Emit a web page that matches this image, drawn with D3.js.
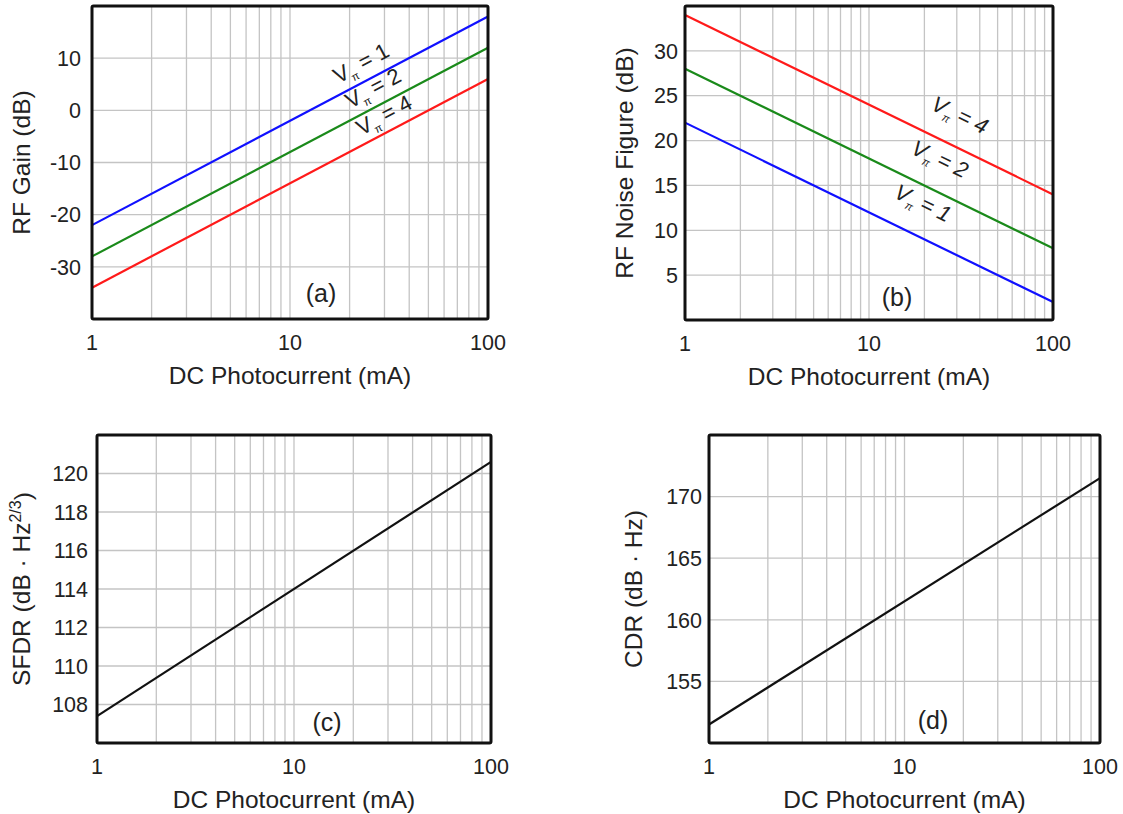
<!DOCTYPE html>
<html><head><meta charset="utf-8">
<script src="https://cdn.jsdelivr.net/npm/d3@7"></script>
<style>
body{margin:0;background:#fff;}
text{font-family:"Liberation Sans",Arial,sans-serif;fill:#222;}
</style></head>
<body>
<svg id="c" width="1123" height="814"></svg>
<script>
// ---- data ----
const xTickLabels = [1, 10, 100];
const currents = [1, 100];

const gainTicks = [-30, -20, -10, 0, 10];
const gainVpi1 = [-22, 18];
const gainVpi2 = [-28, 12];
const gainVpi4 = [-34, 6];

const nfTicks = [5, 10, 15, 20, 25, 30];
const nfVpi1 = [22, 2];
const nfVpi2 = [28, 8];
const nfVpi4 = [34, 14];

const sfdrTicks = [108, 110, 112, 114, 116, 118, 120];
const sfdrValues = [107.4, 120.6];

const cdrTicks = [155, 160, 165, 170];
const cdrValues = [151.5, 171.5];

const svg = d3.select("#c");

function panel(cfg){
  const {x0,x1,y0,y1,ydom,yticks,series,ytitle,ytitleX,letter,letterPos,tickRight,curveLabels,italic} = cfg;
  const g = svg.append("g");
  const x = d3.scaleLog().domain([1,100]).range([x0,x1]);
  const y = d3.scaleLinear().domain(ydom).range([y1,y0]);
  // minor grid
  const minor = [];
  for (let d=1; d<100; d*=10) for (let k=1;k<=9;k++) minor.push(d*k);
  g.append("g").selectAll("line").data(minor.filter(v=>v>1&&v<100)).join("line")
    .attr("x1",d=>x(d)).attr("x2",d=>x(d)).attr("y1",y0).attr("y2",y1)
    .attr("stroke","#c4c4c4").attr("stroke-width",1.3);
  g.append("g").selectAll("line").data(yticks).join("line")
    .attr("x1",x0).attr("x2",x1).attr("y1",d=>y(d)).attr("y2",d=>y(d))
    .attr("stroke","#c4c4c4").attr("stroke-width",1.3);
  // series
  const line = d3.line().x((d,i)=>x(currents[i])).y(d=>y(d));
  series.forEach(s=>{
    g.append("path").datum(s.v).attr("d",line).attr("fill","none")
      .attr("stroke",s.c).attr("stroke-width",2.2);
  });
  // frame
  g.append("rect").attr("x",x0).attr("y",y0).attr("width",x1-x0).attr("height",y1-y0)
    .attr("fill","none").attr("stroke","#111").attr("stroke-width",3).attr("rx",1.5);
  // y tick labels
  g.append("g").selectAll("text").data(yticks).join("text")
    .attr("x",tickRight).attr("y",d=>y(d)).attr("dy","0.36em").attr("text-anchor","end")
    .attr("font-size",21.5).text(d=>d);
  // x tick labels
  g.append("g").selectAll("text").data(xTickLabels).join("text")
    .attr("x",d=>x(d)).attr("y",y1+23).attr("dy","0.36em").attr("text-anchor","middle")
    .attr("font-size",21.5).text(d=>d);
  // x title
  g.append("text").attr("x",(x0+x1)/2).attr("y",y1+56).attr("dy","0.36em")
    .attr("text-anchor","middle").attr("font-size",24.5).text("DC Photocurrent (mA)");
  // y title
  const yt = g.append("text").attr("transform",`translate(${ytitleX},${(y0+y1)/2}) rotate(-90)`)
    .attr("text-anchor","middle").attr("dy","0.36em").attr("font-size",24.5);
  ytitle(yt);
  // panel letter
  g.append("text").attr("x",letterPos[0]).attr("y",letterPos[1]).attr("dy","0.36em")
    .attr("text-anchor","middle").attr("font-size",25).text(letter);
  // curve labels
  if (curveLabels){
    curveLabels.forEach(cl=>{
      const p1=[x(1),y(cl.s[0])], p2=[x(100),y(cl.s[1])];
      const ang = Math.atan2(p2[1]-p1[1], p2[0]-p1[0])*180/Math.PI;
      const t = g.append("text").attr("transform",`translate(${cl.pos[0]},${cl.pos[1]}) rotate(${ang})`)
        .attr("text-anchor","middle").attr("dy","0.36em").attr("font-size",22)
        .attr("font-style",italic?"italic":"normal");
      t.append("tspan").text("V");
      t.append("tspan").attr("font-size",11).attr("dy","0.45em").text("π");
      t.append("tspan").attr("dy","-0.25em").text(" = "+cl.n);
    });
  }
}

panel({x0:92,x1:488,y0:6,y1:319,ydom:[-40,20],yticks:gainTicks,tickRight:81,
  series:[{v:gainVpi1,c:"#1010ff"},{v:gainVpi2,c:"#1a8a1a"},{v:gainVpi4,c:"#ff1a1a"}],
  ytitle:t=>t.text("RF Gain (dB)"),ytitleX:21,letter:"(a)",letterPos:[321,293],
  curveLabels:[{s:gainVpi1,n:1,pos:[361,63]},{s:gainVpi2,n:2,pos:[373,88]},{s:gainVpi4,n:4,pos:[384,115]}]});

panel({x0:685,x1:1053,y0:6,y1:320,ydom:[0,35],yticks:nfTicks,tickRight:678,
  series:[{v:nfVpi1,c:"#1010ff"},{v:nfVpi2,c:"#1a8a1a"},{v:nfVpi4,c:"#ff1a1a"}],
  ytitle:t=>t.text("RF Noise Figure (dB)"),ytitleX:624,letter:"(b)",letterPos:[897,297],italic:true,
  curveLabels:[{s:nfVpi4,n:4,pos:[960,115]},{s:nfVpi2,n:2,pos:[940,159]},{s:nfVpi1,n:1,pos:[923,203]}]});

panel({x0:97,x1:491,y0:435,y1:743,ydom:[106,122],yticks:sfdrTicks,tickRight:88,
  series:[{v:sfdrValues,c:"#111"}],
  ytitle:t=>{t.append("tspan").text("SFDR (dB · Hz");
    t.append("tspan").attr("font-size",16).attr("dy","-0.55em").text("2/3");
    t.append("tspan").attr("dy","0.4em").text(")");},
  ytitleX:21,letter:"(c)",letterPos:[327,722]});

panel({x0:709,x1:1100,y0:435,y1:743,ydom:[150,175],yticks:cdrTicks,tickRight:702,
  series:[{v:cdrValues,c:"#111"}],
  ytitle:t=>t.text("CDR (dB · Hz)"),ytitleX:633,letter:"(d)",letterPos:[933,720]});
</script>
</body></html>
